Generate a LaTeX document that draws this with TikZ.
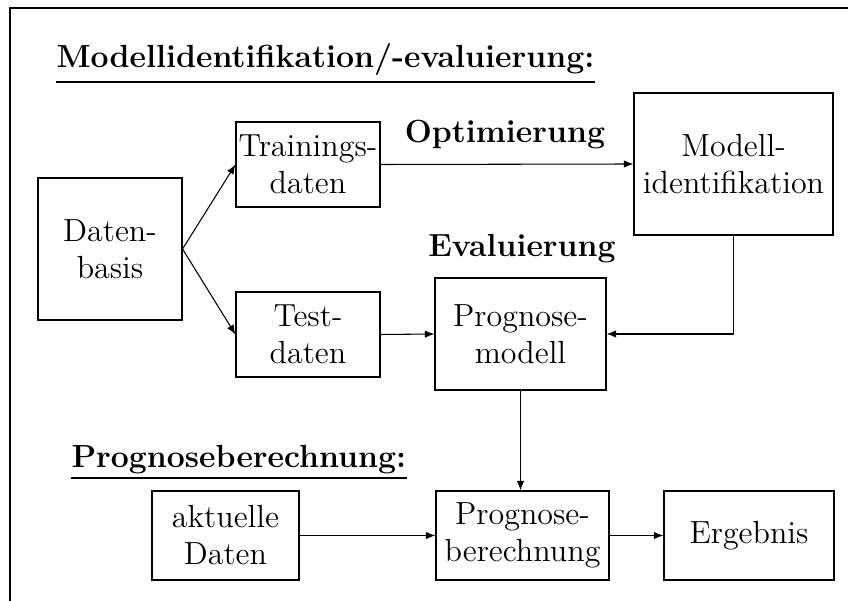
\documentclass[tikz,border=0pt]{standalone}
\usetikzlibrary{arrows.meta}
\begin{document}
\begin{tikzpicture}[x=0.375pt, y=-0.375pt,
  every node/.style={font=\fontsize{12}{13.9}\selectfont},
  box/.style 2 args={draw, align=center, inner sep=0pt,
    minimum width=#1*0.375pt, minimum height=#2*0.375pt},
  label/.style={inner sep=0pt, font=\fontsize{12}{13.9}\selectfont\bfseries},
  arr/.style={-{Latex[length=3.6pt,width=2.8pt]}}]
  % canvas and frame
  \clip (0,0) rectangle (848,601);
  \draw (10,8) rectangle (900,660);

  % headings
  \node[label, anchor=base west] (h1) at (56,68) {Modellidentifikation/-evaluierung:};
  \draw ([yshift=-14*0.375pt]h1.base west) -- ([yshift=-14*0.375pt]h1.base east);
  \node[label, anchor=base west] (h2) at (71,467) {Prognoseberechnung:};
  \draw ([yshift=-11*0.375pt]h2.base west) -- ([yshift=-11*0.375pt]h2.base east);
  \node[label, anchor=base] (opt) at (505,143) {Optimierung};
  \node[label, anchor=base] (eva) at (522,257) {Evaluierung};

  % boxes
  \node[box={144}{142}] (db) at (110,249) {Daten-\\basis};
  \node[box={144}{85}] (tr) at (308,164.5) {Trainings-\\daten};
  \node[box={144}{85}] (te) at (308,334.5) {Test-\\daten};
  \node[box={199}{142}] (mi) at (733.5,164) {Modell-\\identifikation};
  \node[box={171}{112}] (pm) at (520.5,334) {Prognose-\\modell};
  \node[box={147}{89}] (ad) at (225.5,535.5) {aktuelle\\Daten};
  \node[box={173}{89}] (pb) at (522.5,535.5) {Prognose-\\berechnung};
  \node[box={170}{89}] (er) at (749,535.5) {Ergebnis};

  % connectors
  \draw[arr] (db.east) -- (tr.west);
  \draw[arr] (db.east) -- (te.west);
  \draw[arr] (tr.east) -- (mi.west);
  \draw[arr] (te.east) -- (pm.west);
  \draw[arr] (mi.south) |- (pm.east);
  \draw[arr] (pm.south) -- (pm.south |- pb.north);
  \draw[arr] (ad.east) -- (pb.west);
  \draw[arr] (pb.east) -- (er.west);
\end{tikzpicture}
\end{document}
